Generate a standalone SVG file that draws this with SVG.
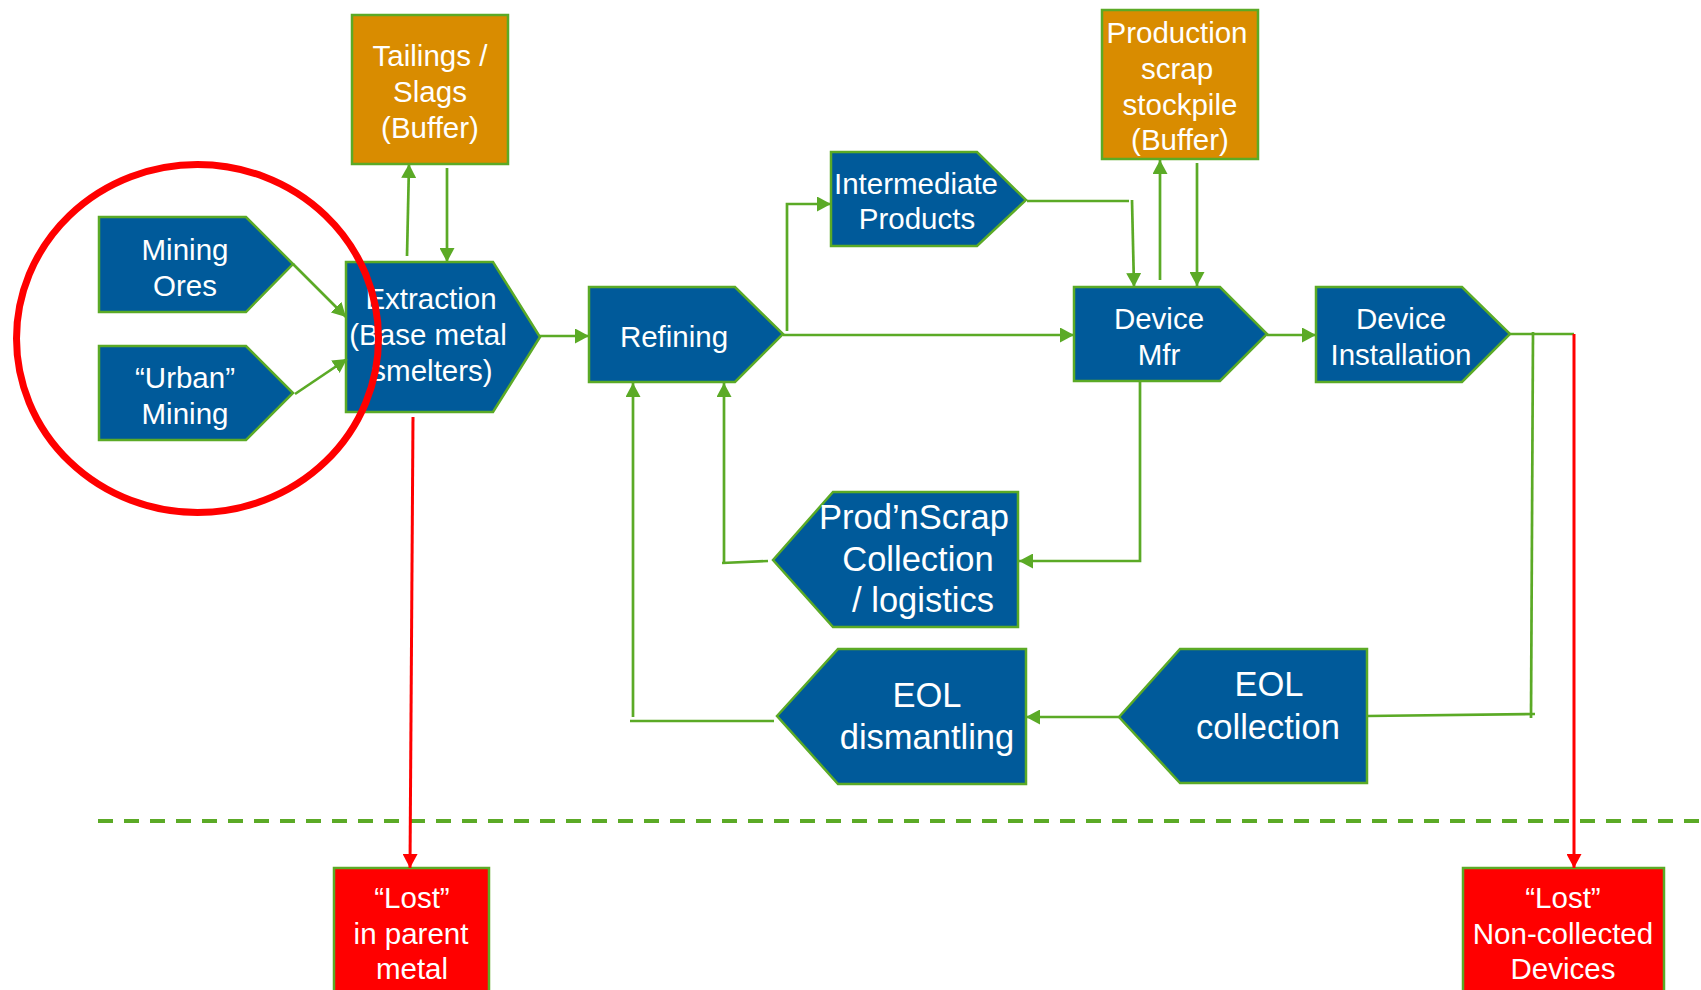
<svg xmlns="http://www.w3.org/2000/svg" width="1701" height="990" viewBox="0 0 1701 990">
  <style>
    .proc { fill: #005A9A; stroke: #5BAA26; stroke-width: 2.5; }
    .buf  { fill: #D98C00; stroke: #5BAA26; stroke-width: 2.5; }
    .lost { fill: #FF0000; stroke: #5BAA26; stroke-width: 2.5; }
    .lbl  { font-family: "Liberation Sans", Arial, sans-serif; font-size: 29.5px; fill: #FFFFFF; text-anchor: middle; }
    .big  { font-size: 34.5px; }
    .flow { fill: none; stroke: #5BAA26; stroke-width: 2.7; }
    .loss { fill: none; stroke: #FF0000; stroke-width: 3; }
  </style>
  <defs>
    <marker id="arrG" markerUnits="userSpaceOnUse" viewBox="0 0 14 15" refX="14" refY="7.5" markerWidth="14" markerHeight="15" orient="auto">
      <path d="M0,0 L14,7.5 L0,15 z" fill="#5BAA26"/>
    </marker>
    <marker id="arrR" markerUnits="userSpaceOnUse" viewBox="0 0 14 15" refX="14" refY="7.5" markerWidth="14" markerHeight="15" orient="auto">
      <path d="M0,0 L14,7.5 L0,15 z" fill="#FF0000"/>
    </marker>
  </defs>

  <rect width="1701" height="990" fill="#FFFFFF"/>

  <!-- boundary between recovered flows and losses -->
  <path d="M98,821 L1701,821" fill="none" stroke="#5BAA26" stroke-width="4" stroke-dasharray="15 11"/>

  <g id="mining-ores">
    <polygon class="proc" points="99,217 246,217 293,264 246,312 99,312"/>
    <text class="lbl" x="185" y="260">Mining</text>
    <text class="lbl" x="185" y="296">Ores</text>
  </g>

  <g id="urban-mining">
    <polygon class="proc" points="99,346 246,346 293,393 246,440 99,440"/>
    <text class="lbl" x="185" y="388">“Urban”</text>
    <text class="lbl" x="185" y="424">Mining</text>
  </g>

  <g id="extraction">
    <polygon class="proc" points="346,262 493,262 540,337 493,412 346,412"/>
    <text class="lbl" x="431" y="309">Extraction</text>
    <text class="lbl" x="428" y="345">(Base metal</text>
    <text class="lbl" x="432" y="381">smelters)</text>
  </g>

  <g id="tailings">
    <rect class="buf" x="352" y="15" width="156" height="149"/>
    <text class="lbl" x="430" y="66">Tailings /</text>
    <text class="lbl" x="430" y="102">Slags</text>
    <text class="lbl" x="430" y="138">(Buffer)</text>
  </g>

  <g id="refining">
    <polygon class="proc" points="589,287 735,287 783,334 735,382 589,382"/>
    <text class="lbl" x="674" y="347">Refining</text>
  </g>

  <g id="intermediate">
    <polygon class="proc" points="831,152 977,152 1026,200 977,246 831,246"/>
    <text class="lbl" x="916" y="194">Intermediate</text>
    <text class="lbl" x="917" y="229">Products</text>
  </g>

  <g id="scrap-stockpile">
    <rect class="buf" x="1102" y="10" width="156" height="149"/>
    <text class="lbl" x="1177" y="43">Production</text>
    <text class="lbl" x="1177" y="79">scrap</text>
    <text class="lbl" x="1180" y="115">stockpile</text>
    <text class="lbl" x="1180" y="150">(Buffer)</text>
  </g>

  <g id="device-mfr">
    <polygon class="proc" points="1074,287 1220,287 1267,334 1220,381 1074,381"/>
    <text class="lbl" x="1159" y="329">Device</text>
    <text class="lbl" x="1159" y="365">Mfr</text>
  </g>

  <g id="device-installation">
    <polygon class="proc" points="1316,287 1462,287 1510,334 1462,382 1316,382"/>
    <text class="lbl" x="1401" y="329">Device</text>
    <text class="lbl" x="1401" y="365">Installation</text>
  </g>

  <g id="prodn-scrap-collection">
    <polygon class="proc" points="773,560 833,492 1018,492 1018,627 833,627"/>
    <text class="lbl big" x="914" y="529">Prod’nScrap</text>
    <text class="lbl big" x="918" y="571">Collection</text>
    <text class="lbl big" x="923" y="612">/ logistics</text>
  </g>

  <g id="eol-dismantling">
    <polygon class="proc" points="777,716 838,649 1026,649 1026,784 838,784"/>
    <text class="lbl big" x="927" y="707">EOL</text>
    <text class="lbl big" x="927" y="749">dismantling</text>
  </g>

  <g id="eol-collection">
    <polygon class="proc" points="1119,717 1180,649 1367,649 1367,783 1180,783"/>
    <text class="lbl big" x="1269" y="696">EOL</text>
    <text class="lbl big" x="1268" y="739">collection</text>
  </g>

  <g id="lost-parent-metal">
    <rect class="lost" x="334" y="868" width="155" height="130"/>
    <text class="lbl" x="412" y="908">“Lost”</text>
    <text class="lbl" x="411" y="944">in parent</text>
    <text class="lbl" x="412" y="979">metal</text>
  </g>

  <g id="lost-non-collected">
    <rect class="lost" x="1463" y="868" width="201" height="130"/>
    <text class="lbl" x="1563" y="908">“Lost”</text>
    <text class="lbl" x="1563" y="944">Non-collected</text>
    <text class="lbl" x="1563" y="979">Devices</text>
  </g>

  <g id="connectors">
    <!-- primary feeds -->
    <path class="flow" d="M293,264 L346,317" marker-end="url(#arrG)"/>
    <path class="flow" d="M295,394 L347,359" marker-end="url(#arrG)"/>
    <!-- extraction buffer exchange -->
    <path class="flow" d="M407,256 L409,164" marker-end="url(#arrG)"/>
    <path class="flow" d="M447,168 L447,262" marker-end="url(#arrG)"/>
    <!-- main chain -->
    <path class="flow" d="M540,336 L589,336" marker-end="url(#arrG)"/>
    <path class="flow" d="M783,335 L1074,335" marker-end="url(#arrG)"/>
    <path class="flow" d="M1267,335 L1316,335" marker-end="url(#arrG)"/>
    <!-- intermediate products branch -->
    <path class="flow" d="M787,331 L787,204 L831,204" marker-end="url(#arrG)"/>
    <path class="flow" d="M1027,201 L1129,201"/>
    <path class="flow" d="M1132,200 L1134,287" marker-end="url(#arrG)"/>
    <!-- production scrap buffer exchange -->
    <path class="flow" d="M1160,280 L1160,160" marker-end="url(#arrG)"/>
    <path class="flow" d="M1197,163 L1197,286" marker-end="url(#arrG)"/>
    <!-- production scrap loop -->
    <path class="flow" d="M1140,381 L1140,561 L1019,561" marker-end="url(#arrG)"/>
    <path class="flow" d="M768,561 L722,563"/>
    <path class="flow" d="M724,563 L724,383" marker-end="url(#arrG)"/>
    <!-- end-of-life loop -->
    <path class="flow" d="M1510,334 L1574,334"/>
    <path class="flow" d="M1533,332 L1531,718"/>
    <path class="flow" d="M1535,714 L1367,716"/>
    <path class="flow" d="M1119,717 L1026,717" marker-end="url(#arrG)"/>
    <path class="flow" d="M774,721 L630,721"/>
    <path class="flow" d="M633,717 L633,383" marker-end="url(#arrG)"/>
    <!-- losses -->
    <path class="loss" d="M413,417 L410,868" marker-end="url(#arrR)"/>
    <path class="loss" d="M1574,334 L1574,868" marker-end="url(#arrR)"/>
  </g>

  <g id="highlight">
    <ellipse cx="197.5" cy="338.5" rx="181" ry="174" fill="none" stroke="#FF0000" stroke-width="7"/>
  </g>
</svg>
